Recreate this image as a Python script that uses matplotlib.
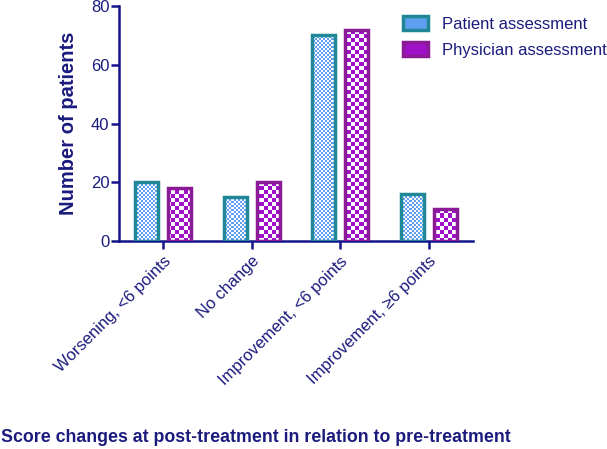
import numpy as np
import matplotlib
matplotlib.use("Agg")
import matplotlib.pyplot as plt
from matplotlib.patches import Rectangle

categories = ["Worsening, <6 points", "No change", "Improvement, <6 points", "Improvement, \u22656 points"]
patient = [20, 15, 70, 16]
physician = [18, 20, 72, 11]
series_names = ["Patient assessment", "Physician assessment"]
yticks = [0, 20, 40, 60, 80]

navy = "#1b1b7e"
axis_col = "#14148a"
pat_edge = "#1f8796"
phy_edge = "#8a1a96"
pat_fill = "#5f9ff0"
phy_fill = "#a010c8"

plt.rcParams['font.family'] = ['Liberation Sans', 'DejaVu Sans']

fig = plt.figure(figsize=(6.07, 4.49), dpi=100)
ax = fig.add_axes([119/607, 1-241/449, 354/607, 235/449])

x = np.arange(len(categories))
w = 0.26
off = 0.185
b1 = ax.bar(x - off, patient, w, facecolor="none", edgecolor=pat_edge, linewidth=2.5, zorder=3)
b2 = ax.bar(x + off, physician, w, facecolor="none", edgecolor=phy_edge, linewidth=2.5, zorder=3)

def checker(nx, ny, cell, color):
    rgb = np.array(matplotlib.colors.to_rgb(color))
    yy, xx = np.mgrid[0:ny, 0:nx]
    mask = ((xx // cell) + (yy // cell)) % 2 == 0
    img = np.ones((ny, nx, 3))
    img[mask] = rgb
    return img

img1 = checker(354, 235, 2, pat_fill)
img2 = checker(354, 235, 4, phy_fill)
for bars, img in ((b1, img1), (b2, img2)):
    for p in bars:
        im = ax.imshow(img, extent=(-0.5, 3.5, 0, 80), aspect='auto',
                       interpolation='nearest', zorder=2)
        im.set_clip_path(p)

ax.set_aspect('auto')
ax.set_xlim(-0.5, 3.5)
ax.set_ylim(0, 80)

for s in ["top", "right"]:
    ax.spines[s].set_visible(False)
for s in ["left", "bottom"]:
    ax.spines[s].set_color(axis_col)
    ax.spines[s].set_linewidth(1.8)

ax.set_yticks(yticks)
ax.set_yticklabels([str(v) for v in yticks])
ax.set_xticks(x)
ax.set_xticklabels(categories, rotation=45, ha="right", rotation_mode="anchor")
ax.tick_params(axis="both", colors=axis_col, labelcolor=navy, width=1.8, length=6, labelsize=12)
ax.tick_params(axis="y", pad=1)
ax.tick_params(axis="x", pad=3)

ax.set_ylabel("Number of patients", fontsize=14.5, fontweight="bold", color=navy, labelpad=9)

fig.text(0.002, 1-437/449, "Score changes at post-treatment in relation to pre-treatment",
         fontsize=12.8, fontweight="bold", color=navy, ha="left", va="center")

# legend
handles = [Rectangle((0, 0), 1, 1, facecolor=pat_fill, edgecolor=pat_edge, linewidth=2.5),
           Rectangle((0, 0), 1, 1, facecolor=phy_fill, edgecolor=phy_edge, linewidth=2.5)]
leg = fig.legend(handles, series_names, loc="upper left", bbox_to_anchor=(388/607, 1-1/449),
                 frameon=False, fontsize=12, labelcolor=navy, handlelength=1.5, handleheight=0.9,
                 handletextpad=0.85, labelspacing=0.65)

fig.savefig("out.png", dpi=100)
